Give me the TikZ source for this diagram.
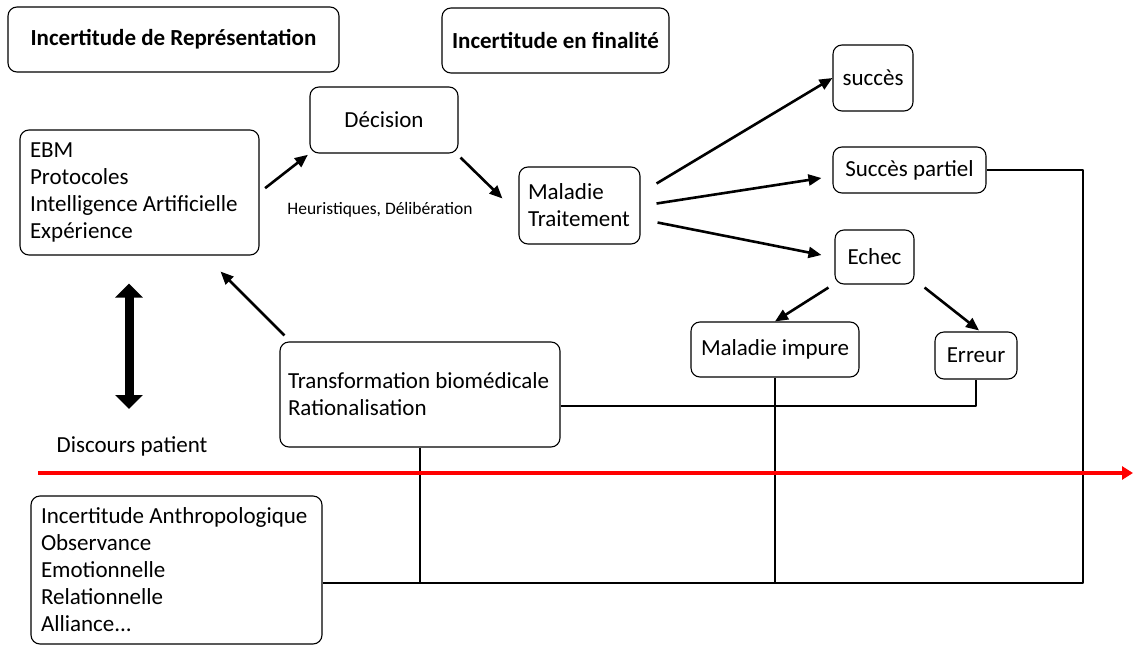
\documentclass[tikz,border=0pt]{standalone}
\usepackage{fontspec}
\setmainfont{Carlito}
\usetikzlibrary{arrows.meta,calc}
\begin{document}
\begin{tikzpicture}[x=1pt,y=-1pt,>={Triangle[length=13pt,width=11pt]}, line join=round,
	boite/.style={draw, line width=1.1pt, rounded corners=9pt, font=\fontsize{23}{27}\selectfont, inner sep=0pt},
	liste/.style={boite, align=flush left, inner xsep=10pt},
	trait/.style={line width=2.6pt},
	fleche/.style={trait,->}]
	\def\petit{\fontsize{17.5}{20}\selectfont}
	\useasboundingbox (0,0) rectangle (1134,645);
	% titres
	\node[boite, font=\bfseries\fontsize{23}{27}\selectfont, minimum width=331pt, minimum height=65pt] (titreA) at (173.5,39.5) {Incertitude de Représentation};
	\node[boite, font=\bfseries\fontsize{23}{27}\selectfont, minimum width=227pt, minimum height=65pt] (titreB) at (555.5,40.5) {Incertitude en finalité};
	% boites
	\node[liste, text width=219pt, minimum height=125pt] (ebm) at (139.5,192.5) {EBM\\Protocoles\\Intelligence Artificielle\\Expérience};
	\node[boite, minimum width=148pt, minimum height=66pt] (decision) at (384,120) {Décision};
	\node[liste, text width=103pt, inner xsep=9pt, minimum height=77pt] (maladie) at (579.5,205.5) {Maladie\\Traitement};
	\node[boite, minimum width=80pt, minimum height=66pt] (succes) at (873,78) {succès};
	\node[boite, minimum width=153pt, minimum height=46pt] (partiel) at (909.5,170) {Succès partiel};
	\node[boite, minimum width=79pt, minimum height=54pt] (echec) at (874.5,257) {Echec};
	\node[boite, minimum width=168pt, minimum height=55pt] (impure) at (775,349.5) {Maladie impure};
	\node[boite, minimum width=82pt, minimum height=47pt] (erreur) at (976,355.5) {Erreur};
	\node[liste, inner xsep=8pt, text width=264pt, minimum height=105pt] (transfo) at (420,394.5) {Transformation biomédicale\\Rationalisation};
	\node[liste, text width=271pt, minimum height=148pt] (anthro) at (176.5,570) {Incertitude Anthropologique\\Observance\\Emotionnelle\\Relationnelle\\Alliance...};
	\node[font=\fontsize{23}{27}\selectfont, inner sep=0pt] (discours) at (132,446) {Discours patient};
	\node[font=\petit, inner sep=0pt] (heur) at (380,210) {Heuristiques, Délibération};
	% fleches
	\draw[fleche, shorten <=7pt, shorten >=2pt] (ebm.east) -- (decision.south west);
	\draw[fleche] ($(decision.south east)+(2,4)$) -- ($(maladie.west)+(-16,-7)$);
	\draw[fleche] ($(maladie.east)+(16,-22)$) -- (succes.west);
	\draw[fleche] ($(maladie.east)+(16,-2)$) -- ($(partiel.west)+(-11,8)$);
	\draw[fleche] ($(maladie.east)+(17,17)$) -- ($(echec.west)+(-13,-2)$);
	\draw[fleche] ($(echec.south west)+(-6,3)$) -- (impure.north);
	\draw[fleche] ($(echec.south east)+(10,3)$) -- ($(erreur.north)+(3,-1)$);
	\draw[fleche] ($(transfo.north west)+(5,-6)$) -- ($(ebm.south east)+(-39,16)$);
	\draw[line width=9pt, {Triangle[length=14pt,width=27pt]}-{Triangle[length=14pt,width=27pt]}] ($(ebm.south)+(-10.5,28)$) -- ($(discours.north)+(-3,-27)$);
	% traits
	\coordinate (coin) at (1083,583);
	\draw[trait] (partiel.east) -| (coin) -- ($(anthro.east)+(0,13)$);
	\draw[trait] (transfo.south) -- (transfo.south |- coin);
	\draw[trait] (impure.south) -- (impure.south |- coin);
	\draw[trait] ($(transfo.east)+(0,11.5)$) -| (erreur.south);
	% axe
	\coordinate (t0) at (38,473);
	\coordinate (t1) at (1133,473);
	\draw[red, line width=3.5pt, -{Triangle[length=11pt,width=13pt]}] (t0) -- (t1);
\end{tikzpicture}
\end{document}
